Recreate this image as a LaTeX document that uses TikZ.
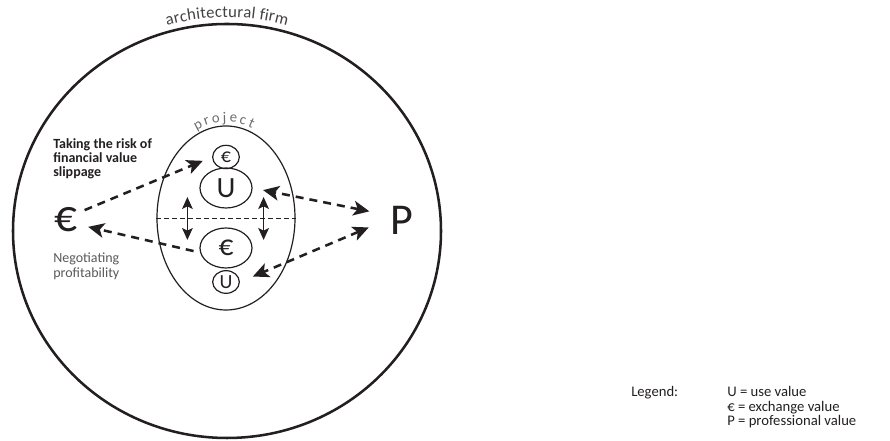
\documentclass[tikz,border=0pt]{standalone}
\usepackage{fontspec}
\setmainfont{Carlito}
\usetikzlibrary{arrows.meta,positioning,calc,shapes.geometric,decorations.text}
\definecolor{ink}{HTML}{231F20}
\definecolor{note}{HTML}{58595B}
\definecolor{arcgray}{HTML}{6D6E71}
\tikzset{
  valnode/.style={ellipse,draw=ink,line width=0.9pt,inner sep=0pt,text=ink},
  flowArrow/.style={ink,line width=1.9pt,dash pattern=on 6pt off 4.5pt,-{Stealth[length=12pt,width=11pt,inset=3pt]}},
  flowBoth/.style={flowArrow,{Stealth[length=12pt,width=11pt,inset=3pt]}-{Stealth[length=12pt,width=11pt,inset=3pt]}},
  swapArrow/.style={ink,line width=1.2pt,{Stealth[length=9pt,width=8pt,inset=2pt]}-{Stealth[length=9pt,width=8pt,inset=2pt]}}
}
\begin{document}
\begin{tikzpicture}[x=0.75pt,y=0.75pt,font=\fontsize{11}{12}\selectfont,text=ink]
\useasboundingbox (0,0) rectangle (890,441);
% firm and project
\node[ellipse,draw=ink,line width=1.9pt,minimum width=321pt,minimum height=310.5pt] (firm) at (227,210) {};
\node[ellipse,draw=ink,line width=0.9pt,minimum width=103.5pt,minimum height=138pt] (project) at (226,223) {};
\draw[ink,line width=0.7pt,dash pattern=on 3.5pt off 2.5pt] (project.west) -- (project.east);
\path[decorate,decoration={text along path,text align=center,raise=5pt,text color=ink!85,
  text={|\fontsize{12.5}{14}\selectfont|architectural firm}}]
  ($(firm.center)+(150:214 and 207)$) arc[start angle=150,end angle=30,x radius=214,y radius=207];
\foreach \l/\t in {p/111,r/104.5,o/97.5,j/91,e/84.5,c/77.5,t/71}
  \node[anchor=base,inner sep=0pt,text=arcgray,font=\fontsize{11}{11}\selectfont,
        rotate={atan2(-96*cos(\t),73*sin(\t))}] at ($(project.center)+(\t:73 and 96)$) {\l};
% values inside the project
\node[valnode,minimum width=39pt,minimum height=30pt,font=\fontsize{22}{22}\selectfont] (useBig) at (226,253) {U};
\node[valnode,minimum width=39pt,minimum height=30pt,font=\fontsize{22}{22}\selectfont] (eurBig) at (226,193) {€};
\node[valnode,minimum width=20pt,minimum height=17.5pt,font=\fontsize{15}{15}\selectfont] (eurSmall) at (226,284) {€};
\node[valnode,minimum width=20pt,minimum height=17pt,font=\fontsize{15}{15}\selectfont] (useSmall) at (226,159) {U};
\draw[swapArrow] ($(useBig.west)+(-12,-9)$) -- ($(eurBig.west)+(-12,8)$);
\draw[swapArrow] ($(useBig.east)+(11,-9)$) -- ($(eurBig.east)+(11,8)$);
% the two sides
\node[font=\fontsize{34}{34}\selectfont,inner sep=1pt] (eur) at (66,221) {€};
\node[font=\fontsize{33}{33}\selectfont,inner sep=1pt] (prof) at (402,221) {P};
\draw[flowArrow,shorten <=4.5pt,shorten >=7.5pt] (eur.30) -- (eurSmall.west);
\draw[flowArrow,shorten <=5pt,shorten >=7pt] (eurBig.190) -- (eur.-20);
\draw[flowBoth,shorten <=15pt,shorten >=8pt] (prof.160) -- (useBig.east);
\draw[flowBoth,shorten <=16.5pt,shorten >=10.5pt] (prof.175) -- (useSmall.east);
\node[anchor=north west,inner sep=0pt,align=left,font=\bfseries\fontsize{10.5}{10.5}\selectfont] (risk) at (53,302.5)
  {Taking the risk of\\financial value\\slippage};
\node[anchor=north west,inner sep=0pt,align=left,text=note,font=\fontsize{10.5}{11}\selectfont] (nego) at (53,188)
  {Negotiating\\profitability};
% legend
\node[anchor=base west,inner sep=0pt] (legend) at (631,44) {Legend:};
\node[anchor=base west,inner sep=0pt] (keyUse) at (727,44) {U = use value};
\node[anchor=base west,inner sep=0pt] (keyEur) at (727,29.5) {€ = exchange value};
\node[anchor=base west,inner sep=0pt] (keyProf) at (727,15) {P = professional value};
\end{tikzpicture}
\end{document}
